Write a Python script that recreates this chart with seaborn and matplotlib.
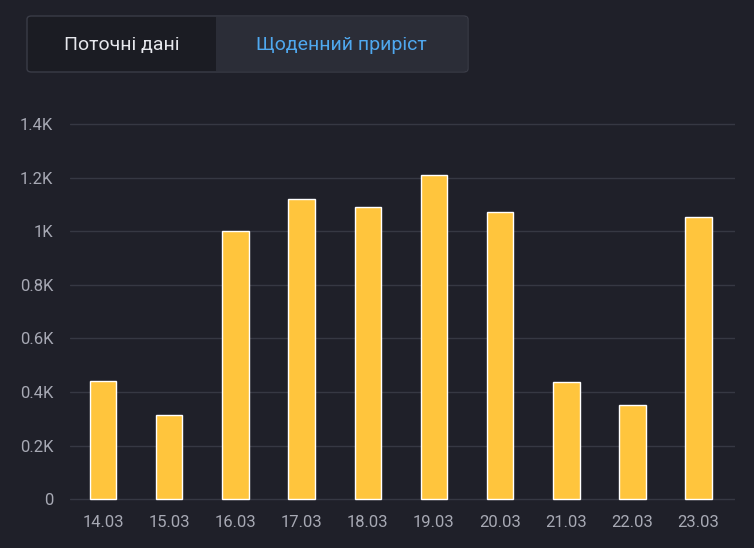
import matplotlib
matplotlib.use("Agg")
import matplotlib.pyplot as plt
import seaborn as sns
import pandas as pd
from matplotlib.patches import FancyBboxPatch, Rectangle

dates = ["14.03","15.03","16.03","17.03","18.03","19.03","20.03","21.03","22.03","23.03"]
values = [440, 314, 1000, 1120, 1090, 1209, 1071, 437, 351, 1053]
yticks = [0, 200, 400, 600, 800, 1000, 1200, 1400]
ylabels = ["0","0.2K","0.4K","0.6K","0.8K","1K","1.2K","1.4K"]
tabs = ["Поточні дані", "Щоденний приріст"]

bg = "#1f2029"
sns.set_theme(style="dark")
plt.rcParams['font.family'] = ['Roboto', 'DejaVu Sans']
fig = plt.figure(figsize=(7.54, 5.48), dpi=100, facecolor=bg)
W, H = 754, 548
ax = fig.add_axes([70/W, 1-509/H, 665/W, (509-112)/H], facecolor=bg)
df = pd.DataFrame({"date": dates, "v": values})
sns.barplot(data=df, x="date", y="v", color="#ffc53d", saturation=1, width=0.4, ax=ax)
ax.set_ylim(-10/0.2679*1, 1400+12/0.2679)
ax.set_ylim(-37, 1445)
ax.set_yticks(yticks)
ax.set_yticklabels(ylabels)
ax.set_xlabel(""); ax.set_ylabel("")
for y in yticks:
    ax.axhline(y, color="#363843", lw=1, zorder=0)
for s in ax.spines.values():
    s.set_visible(False)
ax.tick_params(axis="both", colors="#a7a9b4", labelsize=12, length=0)
ax.tick_params(axis="y", pad=12)
ax.tick_params(axis="x", pad=4)
ax.set_xlim(-0.5, len(dates) - 0.45)

# tabs
fig.patches.append(FancyBboxPatch((27/W, 1-72/H), 441/W, 56/H, boxstyle="round,pad=0,rounding_size=0.006",
                                  transform=fig.transFigure, facecolor="#1b1c23", edgecolor="#3a3c47", lw=1))
fig.patches.append(Rectangle((216/W, 1-71/H), 251/W, 54/H, transform=fig.transFigure,
                             facecolor="#2b2d37", edgecolor="none"))
fig.text(122/W, 1-45/H, tabs[0], color="#e6e7ec", fontsize=14, ha="center", va="center")
fig.text(341/W, 1-45/H, tabs[1], color="#4fa8ef", fontsize=14, ha="center", va="center")
fig.savefig("out.png", facecolor=bg)
